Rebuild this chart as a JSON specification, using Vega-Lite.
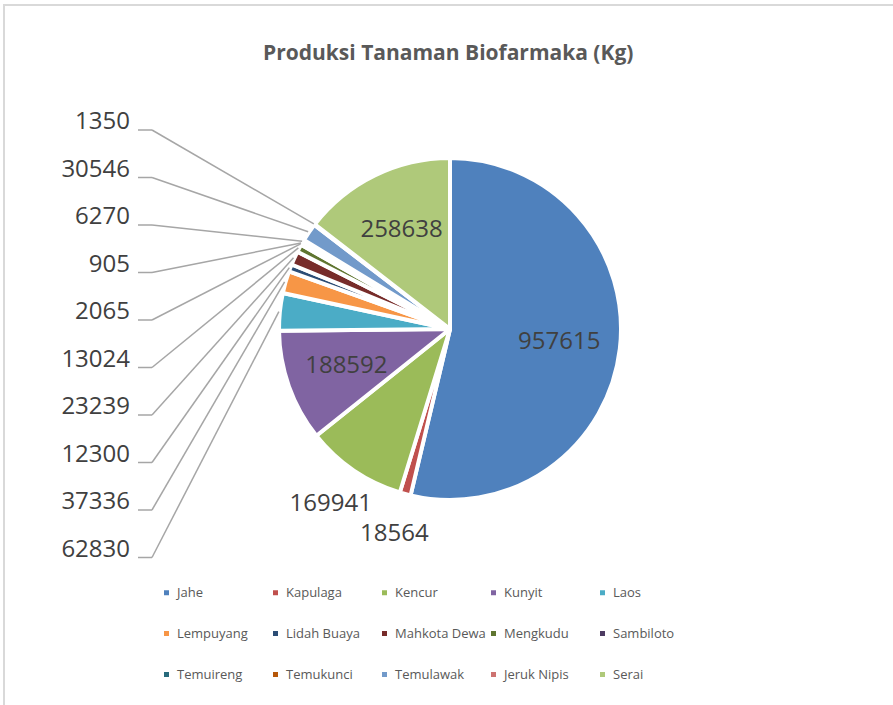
{
  "$schema": "https://vega.github.io/schema/vega-lite/v6.json",
  "width": 900,
  "height": 712,
  "autosize": {"type": "none"},
  "padding": {"left": 4, "top": 5, "right": 0, "bottom": 0},
  "background": "white",
  "title": {
    "text": "Produksi Tanaman Biofarmaka (Kg)",
    "orient": "top",
    "anchor": "start",
    "frame": "group",
    "dx": 259,
    "offset": -59,
    "font": "Open Sans",
    "fontSize": 21,
    "fontWeight": "bold",
    "color": "#595959"
  },
  "config": {
    "view": {"stroke": "#d9d9d9", "strokeWidth": 2},
    "font": "Open Sans"
  },
  "data": {
    "values": [
      {"No": 1, "Tanaman": "Jahe", "Produksi": 957615},
      {"No": 2, "Tanaman": "Kapulaga", "Produksi": 18564},
      {"No": 3, "Tanaman": "Kencur", "Produksi": 169941},
      {"No": 4, "Tanaman": "Kunyit", "Produksi": 188592},
      {"No": 5, "Tanaman": "Laos", "Produksi": 62830},
      {"No": 6, "Tanaman": "Lempuyang", "Produksi": 37336},
      {"No": 7, "Tanaman": "Lidah Buaya", "Produksi": 12300},
      {"No": 8, "Tanaman": "Mahkota Dewa", "Produksi": 23239},
      {"No": 9, "Tanaman": "Mengkudu", "Produksi": 13024},
      {"No": 10, "Tanaman": "Sambiloto", "Produksi": 2065},
      {"No": 11, "Tanaman": "Temuireng", "Produksi": 905},
      {"No": 12, "Tanaman": "Temukunci", "Produksi": 6270},
      {"No": 13, "Tanaman": "Temulawak", "Produksi": 30546},
      {"No": 14, "Tanaman": "Jeruk Nipis", "Produksi": 1350},
      {"No": 15, "Tanaman": "Serai", "Produksi": 258638}
    ]
  },
  "transform": [
    {"joinaggregate": [{"op": "sum", "field": "Produksi", "as": "Total"}]},
    {"window": [{"op": "sum", "field": "Produksi", "as": "Kumulatif"}], "sort": [{"field": "No", "order": "ascending"}], "frame": [null, 0]},
    {"calculate": "2*PI*(datum.Kumulatif - datum.Produksi/2)/datum.Total", "as": "Sudut"},
    {"calculate": "datum.Produksi/datum.Total", "as": "Porsi"}
  ],
  "layer": [
    {
      "mark": {"type": "arc", "outerRadius": 171, "stroke": "white", "strokeWidth": 4, "strokeJoin": "round"},
      "encoding": {
        "theta": {"field": "Produksi", "type": "quantitative", "stack": true},
        "order": {"field": "No", "type": "quantitative", "sort": "ascending"},
        "x": {"datum": 0, "type": "quantitative", "scale": {"domain": [-446, 454], "nice": false, "zero": false}, "axis": null},
        "y": {"datum": 0, "type": "quantitative", "scale": {"domain": [-324, 388], "nice": false, "zero": false, "reverse": true}, "axis": null},
        "color": {
          "field": "Tanaman",
          "type": "nominal",
          "scale": {
            "domain": ["Jahe", "Kapulaga", "Kencur", "Kunyit", "Laos", "Lempuyang", "Lidah Buaya", "Mahkota Dewa", "Mengkudu", "Sambiloto", "Temuireng", "Temukunci", "Temulawak", "Jeruk Nipis", "Serai"],
            "range": ["#4F81BD", "#C0504D", "#9BBB59", "#8064A2", "#4BACC6", "#F79646", "#2C4D75", "#772C2A", "#5F7530", "#4D3B62", "#276A7C", "#B65708", "#729ACA", "#CD7371", "#AFC97A"]
          },
          "legend": {
            "orient": "none",
            "legendX": 156,
            "legendY": 581,
            "direction": "horizontal",
            "columns": 5,
            "title": null,
            "symbolType": "square",
            "symbolSize": 25,
            "symbolStrokeWidth": 0,
            "labelFontSize": 13,
            "labelFont": "Open Sans",
            "labelColor": "#595959",
            "labelOffset": 4,
            "gridAlign": "all",
            "columnPadding": 1,
            "rowPadding": 27
          }
        }
      }
    },
    {
      "transform": [
        {"filter": "datum.Porsi >= 0.1"},
        {"calculate": "110*sin(datum.Sudut)", "as": "lx"},
        {"calculate": "-110*cos(datum.Sudut)", "as": "ly"}
      ],
      "mark": {"type": "text", "fontSize": 24, "font": "Open Sans", "color": "#404040", "align": "center", "baseline": "middle"},
      "encoding": {
        "x": {"field": "lx", "type": "quantitative"},
        "y": {"field": "ly", "type": "quantitative"},
        "text": {"field": "Produksi", "type": "quantitative", "format": "d"}
      }
    },
    {
      "transform": [
        {"filter": "datum.Porsi < 0.1 && datum.Sudut < 1.5*PI"},
        {"calculate": "212*sin(datum.Sudut)", "as": "lx"},
        {"calculate": "-212*cos(datum.Sudut)", "as": "ly"}
      ],
      "mark": {"type": "text", "fontSize": 24, "font": "Open Sans", "color": "#404040", "align": "center", "baseline": "middle"},
      "encoding": {
        "x": {"field": "lx", "type": "quantitative"},
        "y": {"field": "ly", "type": "quantitative"},
        "text": {"field": "Produksi", "type": "quantitative", "format": "d"}
      }
    },
    {
      "transform": [
        {"filter": "datum.Porsi < 0.1 && datum.Sudut >= 1.5*PI"},
        {"window": [{"op": "row_number", "as": "k"}], "sort": [{"field": "No", "order": "descending"}]},
        {"calculate": "-320", "as": "lx"},
        {"calculate": "-207 + (datum.k - 1)*47.5", "as": "ly"},
        {"calculate": "172*sin(datum.Sudut)", "as": "ex"},
        {"calculate": "-172*cos(datum.Sudut)", "as": "ey"},
        {"calculate": "datum.lx + 8", "as": "s0"},
        {"calculate": "datum.lx + 22", "as": "s1"},
        {"calculate": "datum.ly + 8", "as": "sy"}
      ],
      "layer": [
        {
          "mark": {"type": "rule", "color": "#a6a6a6", "strokeWidth": 1.5},
          "encoding": {
            "x": {"field": "s0", "type": "quantitative"},
            "x2": {"field": "s1"},
            "y": {"field": "sy", "type": "quantitative"}
          }
        },
        {
          "mark": {"type": "rule", "color": "#a6a6a6", "strokeWidth": 1.5},
          "encoding": {
            "x": {"field": "s1", "type": "quantitative"},
            "y": {"field": "sy", "type": "quantitative"},
            "x2": {"field": "ex"},
            "y2": {"field": "ey"}
          }
        },
        {
          "mark": {"type": "text", "fontSize": 24, "font": "Open Sans", "color": "#404040", "align": "right", "baseline": "middle"},
          "encoding": {
            "x": {"field": "lx", "type": "quantitative"},
            "y": {"field": "ly", "type": "quantitative"},
            "text": {"field": "Produksi", "type": "quantitative", "format": "d"}
          }
        }
      ]
    }
  ]
}
